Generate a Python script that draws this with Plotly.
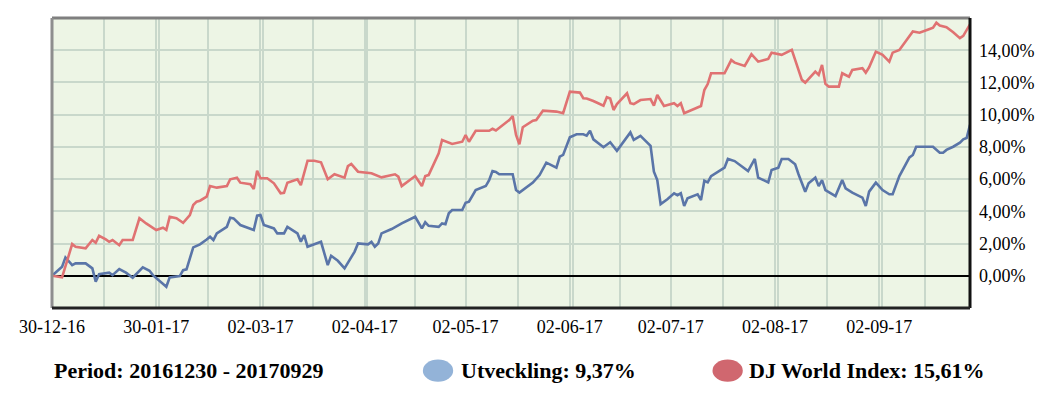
import pandas as pd
import plotly.graph_objects as go

START = pd.Timestamp("2016-12-30")
END_DAY = 273

# Days since 2016-12-30 and value (%) for "Utveckling"
blue_days = [0, 3, 4, 6, 7, 10, 12, 13, 14, 17,
             18, 20, 22, 24, 27, 29, 30, 32, 33, 34,
             35, 38, 39, 40, 42, 44, 46, 47, 48, 49,
             52, 53, 54, 56, 60, 61, 62, 63, 66, 67,
             69, 70, 73, 74, 75, 76, 80, 82, 83, 85,
             87, 89, 90, 91, 94, 95, 96, 97, 98, 101,
             104, 108, 109, 110, 111, 112, 115, 116, 117, 118,
             119, 122, 123, 124, 126, 129, 130, 131, 132, 133,
             137, 138, 139, 141, 143, 145, 147, 150, 151, 152,
             154, 156, 158, 159, 160, 161, 164, 166, 168, 172,
             173, 175, 178, 179, 180, 181, 183, 185, 186, 187,
             188, 189, 192, 193, 194, 195, 196, 200, 201, 203,
             207, 209, 210, 213, 214, 216, 217, 219, 221, 222,
             224, 225, 227, 228, 229, 230, 233, 235, 236, 238,
             240, 241, 242, 243, 245, 247, 249, 250, 252, 255,
             256, 257, 262, 264, 265, 266, 268, 270, 271, 272,
             273]
blue_vals = [0.00, 0.56, 1.14, 0.66, 0.77, 0.77, 0.46, -0.37, 0.10, 0.19,
             0.04, 0.42, 0.19, -0.12, 0.52, 0.31, 0.04, -0.31, -0.47, -0.68,
             -0.10, -0.02, 0.35, 0.40, 1.76, 1.95, 2.25, 2.42, 2.22, 2.63,
             3.04, 3.60, 3.56, 3.15, 2.84, 3.73, 3.77, 3.15, 2.94, 2.63,
             2.63, 3.04, 2.63, 2.11, 2.53, 1.80, 2.11, 0.66, 1.24, 0.93,
             0.46, 1.20, 1.50, 2.01, 1.95, 2.11, 1.80, 2.00, 2.63, 2.90,
             3.25, 3.66, 3.25, 2.94, 3.32, 3.10, 3.04, 3.25, 3.20, 3.88,
             4.08, 4.08, 4.53, 4.60, 5.32, 5.57, 5.94, 6.50, 6.45, 6.30,
             6.30, 5.32, 5.16, 5.49, 5.78, 6.25, 7.02, 6.71, 7.39, 7.50,
             8.60, 8.78, 8.78, 8.70, 9.00, 8.47, 7.98, 8.29, 7.76, 8.90,
             8.43, 8.68, 8.06, 6.46, 5.94, 4.45, 4.75, 5.12, 5.00, 5.12,
             4.33, 4.81, 5.06, 4.70, 5.90, 5.80, 6.19, 6.71, 7.25, 7.12,
             6.50, 7.25, 6.09, 5.80, 6.57, 6.71, 7.25, 7.25, 6.92, 6.30,
             5.22, 5.74, 6.09, 5.57, 5.94, 5.32, 4.95, 5.94, 5.43, 5.16,
             4.95, 4.85, 4.33, 5.22, 5.78, 5.32, 5.06, 5.06, 6.19, 7.35,
             7.50, 8.01, 8.01, 7.64, 7.64, 7.81, 8.01, 8.26, 8.47, 8.55,
             9.37]

# Days since 2016-12-30 and value (%) for "DJ World Index"
red_days = [0, 3, 6, 7, 10, 12, 13, 14, 16, 17,
            18, 20, 21, 24, 26, 28, 31, 33, 34, 35,
            37, 39, 41, 42, 43, 44, 46, 47, 49, 52,
            53, 55, 56, 59, 60, 61, 62, 64, 66, 68,
            69, 70, 73, 74, 76, 78, 80, 82, 84, 87,
            88, 89, 91, 95, 98, 102, 103, 104, 108, 110,
            111, 112, 115, 116, 119, 122, 123, 124, 126, 130,
            131, 132, 136, 137, 138, 139, 140, 143, 144, 146,
            150, 151, 152, 154, 157, 158, 159, 161, 164, 165,
            166, 167, 168, 171, 172, 173, 175, 178, 179, 180,
            182, 185, 186, 187, 188, 193, 194, 195, 196, 200,
            202, 203, 206, 208, 210, 213, 214, 217, 220, 221,
            222, 223, 224, 227, 228, 229, 230, 231, 234, 235,
            237, 238, 241, 242, 243, 245, 247, 249, 250, 252,
            256, 258, 261, 262, 263, 264, 266, 268, 270, 271,
            273]
red_vals = [0.00, -0.10, 1.97, 1.80, 1.70, 2.22, 2.05, 2.48, 2.26, 2.11,
            2.22, 1.90, 2.22, 2.22, 3.57, 3.25, 2.84, 2.98, 2.85, 3.66,
            3.57, 3.29, 3.77, 4.39, 4.60, 4.66, 4.91, 5.57, 5.47, 5.57,
            5.99, 6.09, 5.78, 5.68, 5.39, 6.52, 6.05, 6.05, 5.74, 5.12,
            5.15, 5.78, 5.99, 5.63, 7.14, 7.14, 7.04, 5.99, 6.30, 6.09,
            6.81, 6.94, 6.46, 6.36, 6.11, 6.30, 6.15, 5.57, 6.19, 5.57,
            6.19, 6.25, 7.60, 8.43, 8.18, 8.32, 8.74, 8.32, 9.00, 9.00,
            9.12, 9.02, 9.67, 9.92, 8.74, 8.16, 9.22, 9.63, 9.67, 10.25,
            10.19, 10.12, 10.09, 11.43, 11.37, 11.02, 11.00, 10.85, 10.56, 11.08,
            11.00, 10.29, 10.66, 11.33, 10.71, 10.66, 10.91, 10.97, 10.56, 11.22,
            10.54, 10.71, 10.54, 10.71, 10.09, 10.54, 11.53, 11.90, 12.57, 12.57,
            13.39, 13.23, 13.02, 13.75, 13.29, 13.46, 13.85, 13.71, 14.02, 13.40,
            12.80, 12.16, 11.99, 12.67, 12.47, 13.09, 11.91, 11.74, 11.74, 12.57,
            12.36, 12.78, 12.88, 12.61, 12.94, 13.91, 13.71, 13.29, 13.85, 14.02,
            15.16, 15.09, 15.32, 15.40, 15.71, 15.53, 15.43, 15.12, 14.75, 14.89,
            15.61]

# X-axis labels (days since start) and texts
xtick_days = [0, 31, 62, 93, 123, 154, 184, 215, 246]
xtick_text = ["30-12-16", "30-01-17", "02-03-17", "02-04-17", "02-05-17",
              "02-06-17", "02-07-17", "02-08-17", "02-09-17"]
xgrid_mid_days = [15.5, 46.5, 77.5, 108, 138.5, 169, 199.5, 230.5, 259.5]
xgrid_double_days = [31.8, 62.8, 93.8, 154.8, 215.8, 246.8]

ytick_vals = [0, 2, 4, 6, 8, 10, 12, 14]
ytick_text = ["0,00%", "2,00%", "4,00%", "6,00%", "8,00%", "10,00%", "12,00%", "14,00%"]

period_text = "Period: 20161230 - 20170929"
series_names = ["Utveckling", "DJ World Index"]
series_totals = ["9,37%", "15,61%"]


def to_dates(days):
    return START + pd.to_timedelta(pd.Series(days, dtype=float), unit="D")


BLUE_LINE = "#5A75A8"
RED_LINE = "#E07272"
BLUE_DOT = "#93B3D8"
RED_DOT = "#D0676F"
GRID = "#C9D8CB"
FONT = "Liberation Serif"

fig = go.Figure()
fig.add_trace(go.Scatter(x=to_dates(blue_days), y=blue_vals, mode="lines",
                         line=dict(color=BLUE_LINE, width=2.6), name=series_names[0]))
fig.add_trace(go.Scatter(x=to_dates(red_days), y=red_vals, mode="lines",
                         line=dict(color=RED_LINE, width=2.6), name=series_names[1]))

# page body has an 8px margin; figure is sized/offset to compensate
fig.update_layout(
    width=1051, height=389,
    margin=dict(l=44, r=89, t=10, b=89),
    paper_bgcolor="white",
    plot_bgcolor="#EDF5E5",
    showlegend=False,
    font=dict(family=FONT, size=18, color="black"),
)

fig.update_xaxes(
    type="date",
    range=[START, START + pd.Timedelta(days=END_DAY)],
    tickvals=list(to_dates(xtick_days)),
    ticktext=xtick_text,
    tickangle=0,
    ticks="",
    showgrid=True, gridcolor=GRID, gridwidth=2,
    minor=dict(tickvals=list(to_dates(xgrid_mid_days + xgrid_double_days)),
               showgrid=True, gridcolor=GRID, gridwidth=2, ticks=""),
    showline=False, zeroline=False,
    tickfont=dict(family=FONT, size=18, color="black"),
    ticklabelstandoff=6,
)

fig.update_yaxes(
    range=[-2, 16],
    side="right",
    tickvals=ytick_vals,
    ticktext=ytick_text,
    ticks="",
    showgrid=True, gridcolor=GRID, gridwidth=2,
    zeroline=True, zerolinecolor="black", zerolinewidth=2,
    showline=False,
    tickfont=dict(family=FONT, size=18, color="black"),
    ticklabelstandoff=8,
)

# frame around plot area
frame = [
    dict(x0=0, x1=1, y0=1, y1=1, color="#7F7F7F"),
    dict(x0=0, x1=0, y0=0, y1=1, color="#8E8E8E"),
    dict(x0=1, x1=1, y0=0, y1=1, color="#111111"),
    dict(x0=0, x1=1, y0=0, y1=0, color="#222222"),
]
for f in frame:
    fig.add_shape(type="line", xref="paper", yref="paper",
                  x0=f["x0"], x1=f["x1"], y0=f["y0"], y1=f["y1"],
                  line=dict(color=f["color"], width=3), layer="above")

# legend-like texts below the chart
fig.add_annotation(text=f"<b>{period_text}</b>", xref="paper", yref="paper",
                   x=0.0, y=-0.217, xanchor="left", yanchor="middle", showarrow=False,
                   font=dict(family=FONT, size=22, color="black"))
for name, total, dot, x_dot, x_txt in [
    (series_names[0], series_totals[0], BLUE_DOT, 0.4205, 0.4435),
    (series_names[1], series_totals[1], RED_DOT, 0.736, 0.7575),
]:
    fig.add_shape(type="circle", xref="paper", yref="paper",
                  x0=x_dot - 0.0165, x1=x_dot + 0.0165, y0=-0.178, y1=-0.254,
                  fillcolor=dot, line=dict(width=0))
    fig.add_annotation(text=f"<b>{name}: {total}</b>", xref="paper", yref="paper",
                       x=x_txt, y=-0.217, xanchor="left", yanchor="middle", showarrow=False,
                       font=dict(family=FONT, size=22, color="black"))

fig.write_html("out.html")
